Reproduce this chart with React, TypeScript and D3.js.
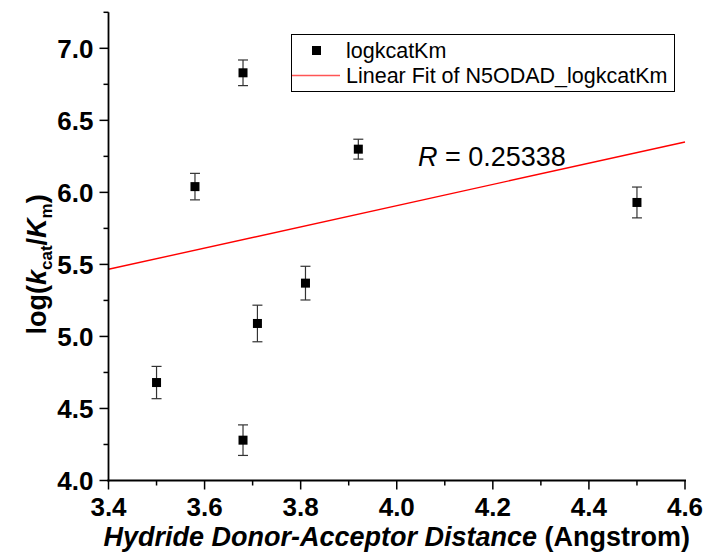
import React from "react";
import { scaleLinear, line, range } from "d3";

// values
const distance = [3.5, 3.58, 3.68, 3.68, 3.71, 3.81, 3.92, 4.5];
const logKcatKm = [4.68, 6.04, 6.83, 4.28, 5.09, 5.37, 6.3, 5.93];
const errors = [0.112, 0.092, 0.089, 0.106, 0.127, 0.117, 0.069, 0.107];
const fitX = [3.4, 4.6];
const fitY = [5.466, 6.35];
const xTicks = [3.4, 3.6, 3.8, 4.0, 4.2, 4.4, 4.6];
const yTicks = [4.0, 4.5, 5.0, 5.5, 6.0, 6.5, 7.0];
const seriesName = "logkcatKm";
const fitName = "Linear Fit of N5ODAD_logkcatKm";
const rValue = "0.25338";

const W = 706;
const H = 552;
const font = "'Liberation Sans', Arial, sans-serif";

const App = () => {
  const x = scaleLinear().domain([3.4, 4.6]).range([108.5, 685]);
  const y = scaleLinear().domain([4.0, 7.25]).range([480.5, 12.3]);

  const xMinor = range(3.5, 4.6, 0.2);
  const yMinor = range(4.25, 7.3, 0.5);

  const fitLine = line<number>()
    .x((d) => x(d))
    .y((d, i) => y(fitY[i]));

  const x0 = x(3.4);
  const yBase = y(4.0);

  return (
    <svg
      width={W}
      height={H}
      style={{ position: "absolute", left: 0, top: 0, background: "#fff" }}
      fontFamily={font}
    >
      {/* fit line */}
      <path d={fitLine(fitX) || ""} fill="none" stroke="#ff0000" strokeWidth={1.4} />

      {/* error bars + points */}
      {distance.map((d, i) => {
        const cx = x(d);
        const cy = y(logKcatKm[i]);
        const yt = y(logKcatKm[i] + errors[i]);
        const yb = y(logKcatKm[i] - errors[i]);
        return (
          <g key={i}>
            <line x1={cx} x2={cx} y1={yt} y2={yb} stroke="#333" strokeWidth={1.2} />
            <line x1={cx - 5} x2={cx + 5} y1={yt} y2={yt} stroke="#333" strokeWidth={1.2} />
            <line x1={cx - 5} x2={cx + 5} y1={yb} y2={yb} stroke="#333" strokeWidth={1.2} />
            <rect x={cx - 4.5} y={cy - 4.5} width={9} height={9} fill="#000" />
          </g>
        );
      })}

      {/* axes */}
      <line x1={x0} x2={x0} y1={y(7.25)} y2={yBase + 1} stroke="#000" strokeWidth={1.8} />
      <line x1={x0 - 1} x2={x(4.6) + 1} y1={yBase} y2={yBase} stroke="#000" strokeWidth={1.8} />

      {yTicks.map((t) => (
        <g key={"y" + t}>
          <line x1={x0 - 9} x2={x0} y1={y(t)} y2={y(t)} stroke="#000" strokeWidth={1.5} />
          <text
            x={x0 - 15}
            y={y(t)}
            dy="0.36em"
            textAnchor="end"
            fontSize={26}
            fontWeight="bold"
          >
            {t.toFixed(1)}
          </text>
        </g>
      ))}
      {yMinor.map((t) => (
        <line key={"ym" + t} x1={x0 - 5} x2={x0} y1={y(t)} y2={y(t)} stroke="#000" strokeWidth={1.5} />
      ))}

      {xTicks.map((t) => (
        <g key={"x" + t}>
          <line x1={x(t)} x2={x(t)} y1={yBase} y2={yBase + 9} stroke="#000" strokeWidth={1.5} />
          <text x={x(t)} y={516} textAnchor="middle" fontSize={26} fontWeight="bold">
            {t.toFixed(1)}
          </text>
        </g>
      ))}
      {xMinor.map((t) => (
        <line key={"xm" + t} x1={x(t)} x2={x(t)} y1={yBase} y2={yBase + 5} stroke="#000" strokeWidth={1.5} />
      ))}

      {/* axis titles */}
      <text x={(x(3.4) + x(4.6)) / 2} y={546} textAnchor="middle" fontSize={27} fontWeight="bold">
        <tspan fontStyle="italic">Hydride Donor-Acceptor Distance</tspan>
        <tspan> (Angstrom)</tspan>
      </text>
      <text
        transform={`translate(46,${(y(4.0) + y(7.0)) / 2}) rotate(-90)`}
        textAnchor="middle"
        fontSize={27}
        fontWeight="bold"
      >
        <tspan>log(</tspan>
        <tspan fontStyle="italic">k</tspan>
        <tspan fontSize={17} dy={6}>cat</tspan>
        <tspan dy={-6}>/</tspan>
        <tspan fontStyle="italic">K</tspan>
        <tspan fontSize={17} dy={6}>m</tspan>
        <tspan dy={-6}>)</tspan>
      </text>

      {/* legend */}
      <rect x={291.5} y={34.5} width={383} height={57} fill="#fff" stroke="#000" strokeWidth={1} />
      <rect x={312} y={46} width={9} height={9} fill="#000" />
      <text x={346} y={58} fontSize={21.5}>{seriesName}</text>
      <line x1={292} x2={340} y1={75.5} y2={75.5} stroke="#ff5555" strokeWidth={1.5} />
      <text x={346} y={83} fontSize={21.5}>{fitName}</text>

      {/* R annotation */}
      <text x={418} y={166} fontSize={27}>
        <tspan fontStyle="italic">R</tspan>
        <tspan> = {rValue}</tspan>
      </text>
    </svg>
  );
};

export default App;
